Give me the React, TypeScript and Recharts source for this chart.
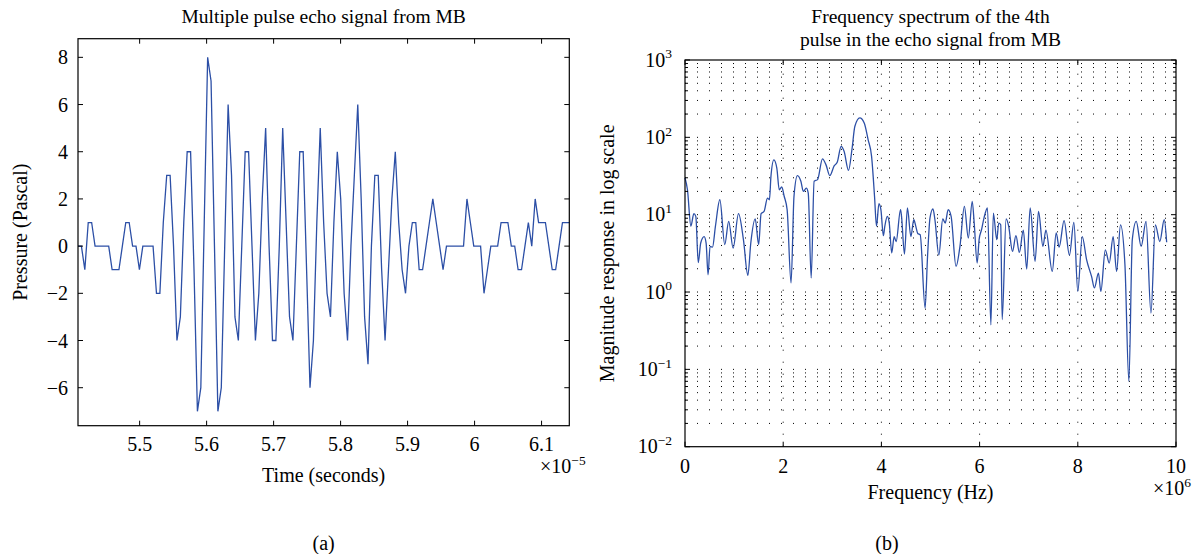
import React from "react";
import { LineChart, Line, XAxis, YAxis, ReferenceLine } from "recharts";

const FONT = "'Liberation Serif', 'Times New Roman', Times, serif";
const INK = "#000";
const TRACE = "#2c4fa6";

// ---- (a) echo signal: one sample every TIME_STEP, time in units of 1e-5 s ----
const TIME_START = 5.408;
const TIME_STEP = 0.005093;
const PRESSURE = [
  0, 0, -1, 1, 1, 0, 0, 0, 0, 0,
  -1, -1, -1, 0, 1, 1, 0, 0, -1, 0,
  0, 0, 0, -2, -2, 1, 3, 3, 0, -4,
  -3, 1, 4, 4, -1, -7, -6, 1, 8, 7,
  0, -7, -6, 0, 6, 3, -3, -4, 0, 4,
  4, 0, -4, -2, 2, 5, 0, -4, -4, 0,
  5, 1, -3, -4, 0, 4, 4, -1, -6, -4,
  1, 5, 1, -2, -3, 1, 4, 2, -2, -4,
  0, 3, 6, 2, -3, -5, 0, 3, 3, -1,
  -4, -1, 2, 4, 1, -1, -2, 0, 1, 1,
  -1, -1, 0, 1, 2, 1, 0, -1, 0, 0,
  0, 0, 0, 0, 2, 1, 0, 0, 0, -2,
  -1, 0, 0, 0, 1, 1, 1, 0, 0, -1,
  -1, 0, 1, 0, 2, 1, 1, 1, 0, -1,
  -1, 0, 1, 1, 1,
];
const TIME_TICKS = [5.5, 5.6, 5.7, 5.8, 5.9, 6, 6.1];
const PRESSURE_TICKS = [-6, -4, -2, 0, 2, 4, 6, 8];

// ---- (b) spectrum of the 4th pulse, frequency in units of 1e6 Hz ----
const FREQ_MHZ = [
  0, 0.05, 0.12, 0.18, 0.22, 0.27, 0.32, 0.39, 0.43, 0.47,
  0.51, 0.56, 0.62, 0.71, 0.81, 0.89, 0.98, 1.09, 1.19, 1.28,
  1.34, 1.43, 1.5, 1.55, 1.61, 1.68, 1.72, 1.75, 1.81, 1.87,
  1.92, 1.97, 2.02, 2.08, 2.16, 2.22, 2.29, 2.36, 2.41, 2.47,
  2.51, 2.57, 2.63, 2.7, 2.8, 2.87, 2.95, 3.04, 3.1, 3.18,
  3.24, 3.33, 3.4, 3.46, 3.56, 3.65, 3.73, 3.8, 3.86, 3.9,
  3.95, 3.99, 4.04, 4.07, 4.12, 4.16, 4.21, 4.26, 4.3, 4.39,
  4.41, 4.47, 4.53, 4.6, 4.66, 4.7, 4.74, 4.79, 4.89, 4.94,
  4.99, 5.05, 5.09, 5.17, 5.25, 5.3, 5.36, 5.42, 5.52, 5.6,
  5.69, 5.77, 5.85, 5.89, 5.95, 5.99, 6.04, 6.09, 6.16, 6.23,
  6.28, 6.35, 6.39, 6.43, 6.46, 6.54, 6.59, 6.67, 6.74, 6.81,
  6.89, 6.96, 7.03, 7.13, 7.2, 7.29, 7.35, 7.48, 7.56, 7.62,
  7.72, 7.83, 7.92, 8.0, 8.09, 8.18, 8.28, 8.34, 8.42, 8.47,
  8.56, 8.64, 8.72, 8.79, 8.87, 8.96, 9.04, 9.11, 9.19, 9.29,
  9.39, 9.49, 9.58, 9.67, 9.76, 9.81,
];
const MAGNITUDE = [
  29.9, 21, 7.1, 10.3, 9.5, 2.4, 4.3, 5.2, 4.3, 1.67,
  3.9, 3.8, 7.1, 15.6, 4.1, 8.2, 3.7, 10.3, 4.75, 1.64,
  4.3, 8.8, 4.1, 10.3, 11, 16.4, 15.6, 31, 51, 40,
  21, 22.8, 17.3, 11.6, 1.31, 17.3, 32, 27, 20, 22,
  19, 1.52, 27, 28.4, 52.6, 44.4, 32, 43, 47.5, 76.5,
  65.9, 37.4, 69.3, 139, 178, 153, 93, 56.8, 17.3, 7.1,
  13.9, 11.6, 5.35, 7.1, 9.5, 7.8, 3.2, 5.2, 4.5, 11.6,
  9.5, 3.1, 12.2, 5.2, 8.6, 7.1, 5.7, 5.5, 0.62, 2.9,
  9.1, 11.9, 8.6, 3.0, 8.8, 7.8, 11.6, 9.5, 2.14, 3.9,
  12.8, 5.0, 14.9, 7.8, 2.37, 4.75, 6.4, 9.1, 12.2, 0.377,
  10.5, 4.75, 7.8, 7.4, 0.44, 8.8, 7.2, 3.35, 5.35, 3.25,
  6.3, 1.98, 12.2, 2.5, 11, 3.9, 6.3, 1.85, 5.8, 3.8,
  8.4, 3.0, 7.95, 1.02, 5.2, 2.6, 1.59, 1.13, 1.76, 1.02,
  3.5, 2.37, 5.2, 1.85, 7.4, 2.25, 0.07, 4.75, 8.2, 3.9,
  8.2, 0.535, 7.4, 4.5, 8.6, 4.4,
];
const FREQ_TICKS = [0, 2, 4, 6, 8, 10];
const DECADES = [-2, -1, 0, 1, 2, 3];

// ---- layout ----
const PAGE_W = 1201;
const PAGE_H = 554;
const Y_AXIS_W = 60;
const X_AXIS_H = 30;
const LEFT_BOX = { left: 78, top: 38.7, right: 569.3, bottom: 425.7 };
const RIGHT_BOX = { left: 685, top: 60, right: 1176, bottom: 446.7 };
const TICK_LEN = 5;
const MINOR_LEN = 3;
const LABEL_SIZE = 20;

const signalData = PRESSURE.map((p, i) => ({ t: TIME_START + i * TIME_STEP, p }));
const spectrumData = FREQ_MHZ.map((f, i) => ({ f, m: MAGNITUDE[i] }));

const logTicks: number[] = [];
DECADES.forEach((d) => {
  const base = Math.pow(10, d);
  if (d === DECADES[DECADES.length - 1]) {
    logTicks.push(base);
    return;
  }
  for (let k = 1; k <= 9; k++) logTicks.push(+(k * base).toPrecision(3));
});
const gridValues = logTicks.filter((v) => v > 0.01 && v < 1000);

const marginFor = (box: typeof LEFT_BOX) => ({
  top: box.top,
  left: box.left - Y_AXIS_W,
  right: PAGE_W - box.right,
  bottom: PAGE_H - box.bottom - X_AXIS_H,
});

const signed = (v: number) => (v < 0 ? "\u2212" + Math.abs(v) : String(v));
const fmtTime = (v: number) => String(Number(v.toFixed(1)));

// tick label text, serif like the rest of the figure
function TickText({ x, y, anchor, children }: any) {
  return (
    <text
      x={x}
      y={y}
      textAnchor={anchor}
      fontFamily={FONT}
      fontSize={LABEL_SIZE}
      fill={INK}
      stroke="none"
      style={{ fontFamily: FONT }}
    >
      {children}
    </text>
  );
}

/* ticks point inward (MATLAB style) and are mirrored on the opposite side */
function TimeTick(props: any) {
  const { x, y, payload } = props;
  return (
    <g>
      <line x1={x} y1={y} x2={x} y2={y - TICK_LEN} stroke={INK} />
      <line x1={x} y1={LEFT_BOX.top} x2={x} y2={LEFT_BOX.top + TICK_LEN} stroke={INK} />
      <TickText x={x} y={y + 25.3} anchor="middle">
        {fmtTime(payload.value)}
      </TickText>
    </g>
  );
}

function PressureTick(props: any) {
  const { x, y, payload } = props;
  return (
    <g>
      <line x1={x} y1={y} x2={x + TICK_LEN} y2={y} stroke={INK} />
      <line x1={LEFT_BOX.right} y1={y} x2={LEFT_BOX.right - TICK_LEN} y2={y} stroke={INK} />
      <TickText x={x - 10} y={y + 7} anchor="end">
        {signed(payload.value)}
      </TickText>
    </g>
  );
}

function FreqTick(props: any) {
  const { x, y, payload } = props;
  return (
    <g>
      <line x1={x} y1={y} x2={x} y2={y - TICK_LEN} stroke={INK} />
      <line x1={x} y1={RIGHT_BOX.top} x2={x} y2={RIGHT_BOX.top + TICK_LEN} stroke={INK} />
      <TickText x={x} y={y + 26.3} anchor="middle">
        {payload.value}
      </TickText>
    </g>
  );
}

function LogTick(props: any) {
  const { x, y, payload } = props;
  const exp = Math.log10(payload.value);
  const major = Math.abs(exp - Math.round(exp)) < 1e-6;
  const len = major ? TICK_LEN : MINOR_LEN;
  return (
    <g>
      <line x1={x} y1={y} x2={x + len} y2={y} stroke={INK} />
      <line x1={RIGHT_BOX.right} y1={y} x2={RIGHT_BOX.right - len} y2={y} stroke={INK} />
      {major && (
        <TickText x={x - 13} y={y + 6.7} anchor="end">
          10
          <tspan dy={-8.4} fontSize={13.5}>
            {signed(Math.round(exp))}
          </tspan>
        </TickText>
      )}
    </g>
  );
}

function EchoSignalChart() {
  return (
    <LineChart
      width={PAGE_W}
      height={PAGE_H}
      data={signalData}
      margin={marginFor(LEFT_BOX)}
      style={{ fontFamily: FONT }}
    >
      <XAxis
        dataKey="t"
        type="number"
        domain={["dataMin", "dataMax"]}
        ticks={TIME_TICKS}
        interval={0}
        height={X_AXIS_H}
        axisLine={false}
        tickLine={false}
        tickSize={0}
        tickMargin={0}
        tick={TimeTick}
      />
      <YAxis
        type="number"
        domain={[-7.61, 8.79]}
        allowDataOverflow
        ticks={PRESSURE_TICKS}
        interval={0}
        width={Y_AXIS_W}
        axisLine={false}
        tickLine={false}
        tickSize={0}
        tickMargin={0}
        tick={PressureTick}
      />
      <Line
        type="linear"
        dataKey="p"
        stroke={TRACE}
        strokeWidth={1.3}
        dot={false}
        isAnimationActive={false}
      />
    </LineChart>
  );
}

function SpectrumChart() {
  return (
    <LineChart
      width={PAGE_W}
      height={PAGE_H}
      data={spectrumData}
      margin={marginFor(RIGHT_BOX)}
      style={{ fontFamily: FONT }}
    >
      <XAxis
        dataKey="f"
        type="number"
        domain={[0, 10]}
        ticks={FREQ_TICKS}
        interval={0}
        height={X_AXIS_H}
        axisLine={false}
        tickLine={false}
        tickSize={0}
        tickMargin={0}
        tick={FreqTick}
      />
      <YAxis
        type="number"
        scale="log"
        domain={[0.01, 1000]}
        allowDataOverflow
        ticks={logTicks}
        interval={0}
        width={Y_AXIS_W}
        axisLine={false}
        tickLine={false}
        tickSize={0}
        tickMargin={0}
        tick={LogTick}
      />
      {/* dotted grid: every decade step on y, major ticks on x */}
      {gridValues.map((v) => (
        <ReferenceLine key={"h" + v} y={v} stroke={INK} strokeWidth={1} strokeDasharray="1 11" />
      ))}
      {FREQ_TICKS.slice(1, -1).map((v) => (
        <ReferenceLine key={"v" + v} x={v} stroke={INK} strokeWidth={1} strokeDasharray="1 11" />
      ))}
      <Line
        type="monotone"
        dataKey="m"
        stroke={TRACE}
        strokeWidth={1.3}
        dot={false}
        isAnimationActive={false}
      />
    </LineChart>
  );
}

function Frame({ box }: { box: typeof LEFT_BOX }) {
  return (
    <rect
      x={box.left}
      y={box.top}
      width={box.right - box.left}
      height={box.bottom - box.top}
      fill="none"
      stroke={INK}
      strokeWidth={1.2}
    />
  );
}

export default function App() {
  const lc = (LEFT_BOX.left + LEFT_BOX.right) / 2;
  const rc = (RIGHT_BOX.left + RIGHT_BOX.right) / 2;
  return (
    <div
      style={{
        position: "absolute",
        left: 0,
        top: 0,
        width: PAGE_W,
        height: PAGE_H,
        background: "#fff",
        fontFamily: FONT,
      }}
    >
      <div style={{ position: "absolute", left: 0, top: 0 }}>
        <EchoSignalChart />
      </div>
      <div style={{ position: "absolute", left: 0, top: 0 }}>
        <SpectrumChart />
      </div>
      <svg
        width={PAGE_W}
        height={PAGE_H}
        style={{ position: "absolute", left: 0, top: 0, pointerEvents: "none", fontFamily: FONT }}
        fill={INK}
      >
        <Frame box={LEFT_BOX} />
        <Frame box={RIGHT_BOX} />

        {/* (a) */}
        <text x={lc} y={23} textAnchor="middle" fontSize={19.5}>
          Multiple pulse echo signal from MB
        </text>
        <text transform={`translate(27, ${(LEFT_BOX.top + LEFT_BOX.bottom) / 2}) rotate(-90)`} textAnchor="middle" fontSize={LABEL_SIZE}>
          Pressure (Pascal)
        </text>
        <text x={lc} y={482} textAnchor="middle" fontSize={LABEL_SIZE}>
          Time (seconds)
        </text>
        <text x={540} y={473} fontSize={LABEL_SIZE}>
          ×10
          <tspan dy={-8.4} fontSize={13.5}>
            −5
          </tspan>
        </text>
        <text x={lc} y={550} textAnchor="middle" fontSize={LABEL_SIZE}>
          (a)
        </text>

        {/* (b) */}
        <text x={rc} y={23} textAnchor="middle" fontSize={19.5}>
          Frequency spectrum of the 4th
        </text>
        <text x={rc} y={46} textAnchor="middle" fontSize={19.5}>
          pulse in the echo signal from MB
        </text>
        <text transform={`translate(614, ${(RIGHT_BOX.top + RIGHT_BOX.bottom) / 2}) rotate(-90)`} textAnchor="middle" fontSize={LABEL_SIZE}>
          Magnitude response in log scale
        </text>
        <text x={rc} y={499} textAnchor="middle" fontSize={LABEL_SIZE}>
          Frequency (Hz)
        </text>
        <text x={1153} y={495} fontSize={LABEL_SIZE}>
          ×10
          <tspan dy={-8.4} fontSize={13.5}>
            6
          </tspan>
        </text>
        <text x={887} y={550} textAnchor="middle" fontSize={LABEL_SIZE}>
          (b)
        </text>
      </svg>
    </div>
  );
}
